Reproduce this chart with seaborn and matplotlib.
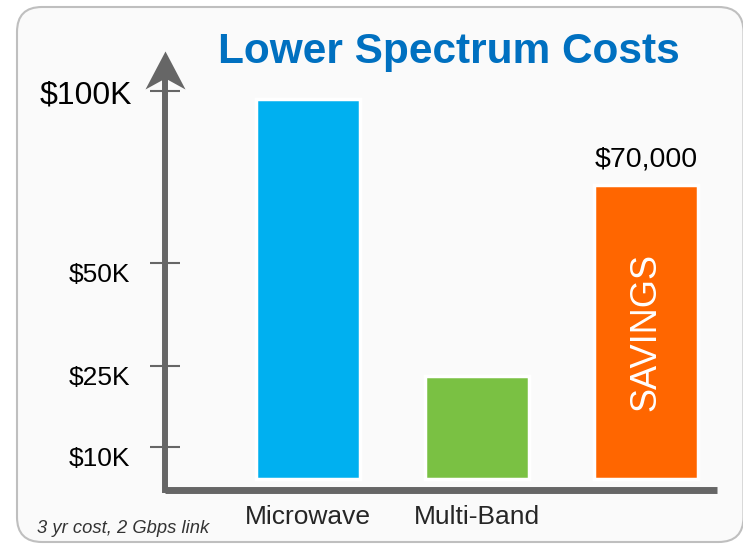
import numpy as np
import matplotlib
matplotlib.use("Agg")
import matplotlib.pyplot as plt
from matplotlib.patches import FancyBboxPatch
from matplotlib.path import Path
from matplotlib.transforms import IdentityTransform, ScaledTranslation
import seaborn as sns

# chart data
categories = ["Microwave", "Multi-Band", "Savings"]
costs = [97700, 23100, 72800]
bar_colors = ["#00B0F0", "#7AC143", "#FF6600"]
xtick_labels = ["Microwave", "Multi-Band", ""]
ytick_values = [10000, 25000, 50000, 100000]
ytick_labels = ["$10K", "$25K", "$50K", "$100K"]
savings_label = "$70,000"

# the y axis of the original is not linear: piecewise mapping value -> pixels above the axis line
scale_values = [-3281, 0, 10000, 25000, 50000, 100000, 150000]
scale_pixels = [0, 10.5, 42.5, 123.5, 226.5, 398.5, 570.5]


def forward(v):
    return np.interp(v, scale_values, scale_pixels)


def inverse(p):
    return np.interp(p, scale_pixels, scale_values)


sns.set_theme(style="white")
plt.rcParams["font.family"] = ["Liberation Sans", "DejaVu Sans"]

fig = plt.figure(figsize=(7.43, 5.45), dpi=100)
fig.patch.set_facecolor("white")

# rounded background card
card = FancyBboxPatch((17, 3), 726.5, 535, boxstyle="round,pad=0,rounding_size=25",
                      transform=IdentityTransform(), facecolor="#FAFAFA",
                      edgecolor="#BFBFBF", linewidth=1.5, zorder=0)
fig.add_artist(card)

ax = fig.add_axes([165 / 743, (545 - 489.5) / 545, (717 - 165) / 743, 411.5 / 545])
ax.set_facecolor("none")

sns.barplot(x=categories, y=costs, hue=categories, palette=bar_colors, legend=False,
            width=0.62, saturation=1, edgecolor="white", linewidth=2.5, ax=ax)

ax.set_yscale("function", functions=(forward, inverse))
ax.set_ylim(inverse(0), inverse(411.5))
ax.set_xlim(-0.8456, 2.4207)

# axes styling
for side in ["top", "right"]:
    ax.spines[side].set_visible(False)
ax.spines["left"].set_color("#666666")
ax.spines["left"].set_linewidth(4.3)
ax.spines["bottom"].set_color("#666666")
ax.spines["bottom"].set_linewidth(5)
ax.spines["bottom"].set_capstyle("butt")

ax.set_yticks(ytick_values, ytick_labels)
ax.yaxis.set_minor_locator(matplotlib.ticker.NullLocator())
ax.tick_params(axis="y", direction="inout", length=21.6, width=1.5, color="#666666",
               labelsize=19, pad=14, labelcolor="black", left=True)
for lab in ax.get_yticklabels():
    lab.set_va("top")
big = ax.get_yticklabels()[-1]
big.set_fontsize(23)
big.set_va("center")
big.set_transform(big.get_transform() + ScaledTranslation(2 / 100, -4 / 100, fig.dpi_scale_trans))

ax.set_xticks([0, 1, 2], xtick_labels)
ax.tick_params(axis="x", length=0, labelsize=19, pad=11, labelcolor="#262626")
ax.set_xlabel("")
ax.set_ylabel("")
ax.grid(False)

# arrow head on top of the y axis
head = Path([(0, 27), (20, -11), (0, 0), (-20, -11), (0, 27)],
            [Path.MOVETO, Path.LINETO, Path.LINETO, Path.LINETO, Path.CLOSEPOLY])
ax.plot([0], [1], transform=ax.transAxes, marker=head, markersize=38.9,
        color="#666666", markeredgewidth=0, clip_on=False, zorder=5)

# labels on the savings bar
ax.annotate(savings_label, xy=(2, costs[2]), xytext=(0, 12.8), textcoords="offset points",
            ha="center", va="baseline", fontsize=20.5, color="black")
ax.text(2, 0.382, "SAVINGS", transform=ax.get_xaxis_transform(), rotation=90,
        ha="center", va="center", fontsize=26, color="white")

fig.text(449 / 743, 1 - 63 / 545, "Lower Spectrum Costs", ha="center", va="baseline",
         fontsize=30.5, fontweight="bold", color="#0070C0")
fig.text(37 / 743, 1 - 533 / 545, "3 yr cost, 2 Gbps link", ha="left", va="baseline",
         fontsize=13.2, style="italic", color="#333333")

fig.savefig("out.png", dpi=100, facecolor="white")
